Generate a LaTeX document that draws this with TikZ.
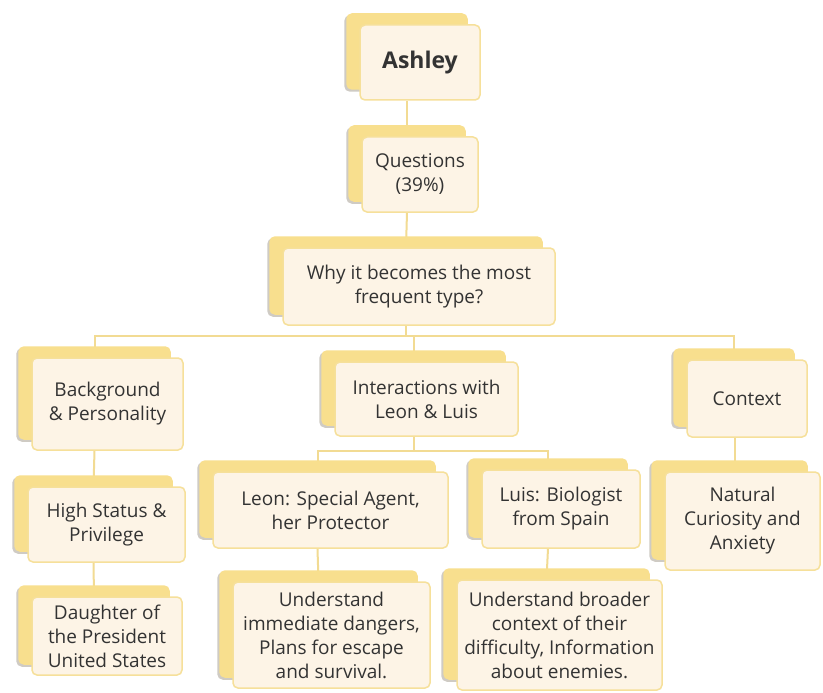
\documentclass[tikz,border=0pt]{standalone}
\usepackage{fontspec}
\setmainfont{Open Sans}
\usetikzlibrary{shadows,backgrounds}

\definecolor{cardfront}{HTML}{FDF4E6}
\definecolor{cardedge}{HTML}{F6E09A}
\definecolor{cardback}{HTML}{F8DF8E}
\definecolor{cardgrey}{HTML}{CFCBC4}
\definecolor{linkline}{HTML}{F2DB93}
\definecolor{inktext}{HTML}{333333}

\begin{document}
\begin{tikzpicture}[x=1pt,y=-1pt,
    card/.style={draw=cardedge,line width=1.5pt,fill=cardfront,rounded corners=5pt,
      align=center,text=inktext,inner sep=0pt,font=\fontsize{19}{24}\selectfont,
      general shadow={shadow xshift=-15pt,shadow yshift=9pt,fill=cardgrey,draw=cardgrey},
      general shadow={shadow xshift=-13pt,shadow yshift=11pt,fill=cardback,draw=cardback}},
    link/.style={draw=linkline,line width=2pt}]
    % The page
    \useasboundingbox (0,0) rectangle (823,693);
    % The cards
    \node[card,minimum width=120,minimum height=75,font=\fontsize{23}{26}\selectfont\bfseries]
      (ashley) at (420,62.5) {Ashley};
    \node[card,minimum width=116,minimum height=75] (questions) at (420,174.5) {Questions\\(39\%)};
    \node[card,minimum width=272,minimum height=77] (why) at (419,286.5) {Why it becomes the most\\frequent type?};
    \node[card,minimum width=151,minimum height=92] (bg) at (107.5,404) {Background\\\& Personality};
    \node[card,minimum width=183,minimum height=74] (inter) at (426.5,399) {Interactions with\\Leon \& Luis};
    \node[card,minimum width=120,minimum height=77] (ctx) at (747,398.5) {Context};
    \node[card,minimum width=157,minimum height=75] (high) at (106.5,524.5) {High Status \&\\Privilege};
    \node[card,minimum width=150,minimum height=78] (dau) at (107,636) {Daughter of\\the President\\United States};
    \node[card,minimum width=235,minimum height=76] (leon) at (330.5,510) {Leon: Special Agent,\\her Protector};
    \node[card,minimum width=158,minimum height=78] (luis) at (561,509) {Luis: Biologist\\from Spain};
    \node[card,minimum width=197,minimum height=106] (dangers) at (331.5,635)
      {Understand\\immediate dangers,\\Plans for escape\\and survival.};
    \node[card,minimum width=205,minimum height=110] (broader) at (559.5,635)
      {Understand broader\\context of their\\difficulty, Information\\about enemies.};
    \node[card,minimum width=155,minimum height=98] (nat) at (742.5,521) {Natural\\Curiosity and\\Anxiety};
    % The links
    \begin{scope}[on background layer]
      \fill[white] (0,0) rectangle (823,693);
      \draw[link] ([xshift=-13pt]ashley.south) -- ([xshift=-13pt]questions.north);
      \draw[link] ([xshift=-13pt]questions.south) -- ([xshift=-13pt]why.north);
      \foreach \kid in {bg,inter,ctx}
        \draw[link] ([xshift=-13pt]why.south) -- ++(0,10) -| ([xshift=-13pt]\kid.north);
      \foreach \kid in {leon,luis}
        \draw[link] ([xshift=-13pt]inter.south) -- ++(0,14) -| ([xshift=-13pt]\kid.north);
      \draw[link] ([xshift=-13pt]bg.south) -- ([xshift=-13pt]high.north);
      \draw[link] ([xshift=-13pt]high.south) -- ([xshift=-13pt]dau.north);
      \draw[link] ([xshift=-13pt]leon.south) -- ([xshift=-13pt]dangers.north);
      \draw[link] ([xshift=-13pt]luis.south) -- ([xshift=-13pt]broader.north);
      \draw[link] ([xshift=-12pt]ctx.south) -- ([xshift=-12pt]ctx.south |- nat.north);
    \end{scope}
\end{tikzpicture}
\end{document}
